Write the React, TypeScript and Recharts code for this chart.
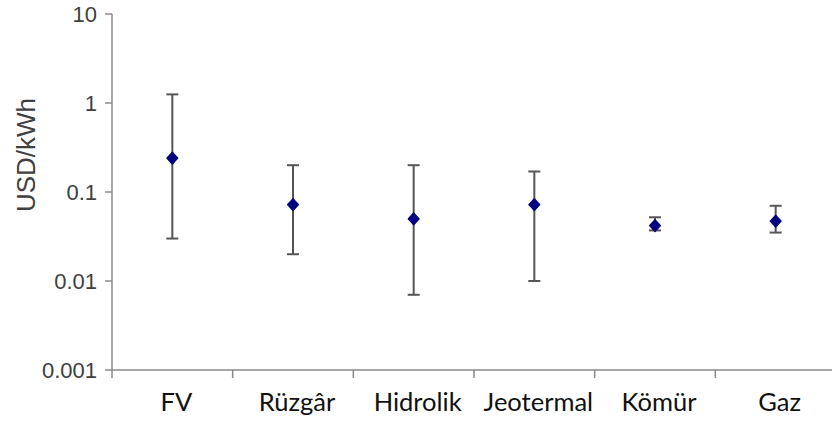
import React from "react";
import { ComposedChart, Line, XAxis, YAxis, ErrorBar, Label } from "recharts";

// electricity cost ranges by source (USD/kWh)
const sources = ["FV", "Rüzgâr", "Hidrolik", "Jeotermal", "Kömür", "Gaz"];
const costMid = [0.24, 0.072, 0.05, 0.072, 0.042, 0.047];
const costLow = [0.03, 0.02, 0.007, 0.01, 0.037, 0.035];
const costHigh = [1.25, 0.2, 0.2, 0.17, 0.052, 0.07];
const yTicks = [0.001, 0.01, 0.1, 1, 10];

const data = sources.map((name, i) => ({
  name,
  cost: costMid[i],
  range: [costMid[i] - costLow[i], costHigh[i] - costMid[i]],
}));

const CHART_W = 850;
const CHART_H = 423;
const Y_AXIS_W = 112;
const RIGHT = 14;
const BAND = (CHART_W - Y_AXIS_W - RIGHT) / sources.length;
const AXIS_GREY = "#8a8a8a";

function SourceTick({ x, y, payload }: any) {
  const left = x - BAND / 2;
  return (
    <g>
      <line x1={left} x2={left} y1={y - 10} y2={y - 2} stroke={AXIS_GREY} strokeWidth={1.5} />
      <text
        x={x + 4}
        y={y + 31}
        textAnchor="middle"
        fill="#111"
        fontSize={25.5}
        fontFamily="Lato, 'Open Sans', sans-serif"
      >
        {payload.value}
      </text>
    </g>
  );
}

function Diamond({ cx, cy }: any) {
  if (cx == null || cy == null) return null;
  return (
    <path
      d={`M${cx},${cy - 6} L${cx + 5.5},${cy} L${cx},${cy + 6} L${cx - 5.5},${cy} Z`}
      fill="#00007f"
      stroke="#00007f"
      strokeWidth={1.2}
      strokeLinejoin="round"
    />
  );
}

function YTitle({ viewBox }: any) {
  const cy = viewBox.y + viewBox.height / 2 - 37;
  return (
    <text
      x={35}
      y={cy}
      transform={`rotate(-90, 35, ${cy})`}
      textAnchor="middle"
      fill="#404040"
      fontSize={26}
      fontFamily="'Liberation Sans', Arial, sans-serif"
    >
      USD/kWh
    </text>
  );
}

export default function App() {
  return (
    <div
      style={{
        position: "fixed",
        left: 0,
        top: 0,
        width: 832,
        height: 423,
        overflow: "hidden",
        background: "#fff",
      }}
    >
      <ComposedChart
        width={CHART_W}
        height={CHART_H}
        data={data}
        margin={{ top: 14, right: RIGHT, bottom: 0, left: 0 }}
      >
        <XAxis
          dataKey="name"
          type="category"
          scale="band"
          height={53}
          axisLine={{ stroke: AXIS_GREY, strokeWidth: 1.5 }}
          tickLine={false}
          tickSize={8}
          tickMargin={2}
          interval={0}
          tick={<SourceTick />}
        />
        <YAxis
          scale="log"
          domain={[0.001, 10]}
          ticks={yTicks}
          allowDataOverflow
          width={Y_AXIS_W}
          axisLine={{ stroke: AXIS_GREY, strokeWidth: 1.5 }}
          tickLine={{ stroke: AXIS_GREY, strokeWidth: 1.5 }}
          tickSize={7}
          tickMargin={8}
          tickFormatter={(v: number) => String(v)}
          tick={{ fill: "#404040", fontSize: 22, fontFamily: "'Liberation Sans', Arial, sans-serif" }}
        >
          <Label content={<YTitle />} />
        </YAxis>
        <Line
          dataKey="cost"
          stroke="none"
          strokeWidth={0}
          dot={<Diamond />}
          activeDot={false}
          isAnimationActive={false}
        >
          <ErrorBar dataKey="range" direction="y" width={6} strokeWidth={2} stroke="#555" />
        </Line>
      </ComposedChart>
    </div>
  );
}
